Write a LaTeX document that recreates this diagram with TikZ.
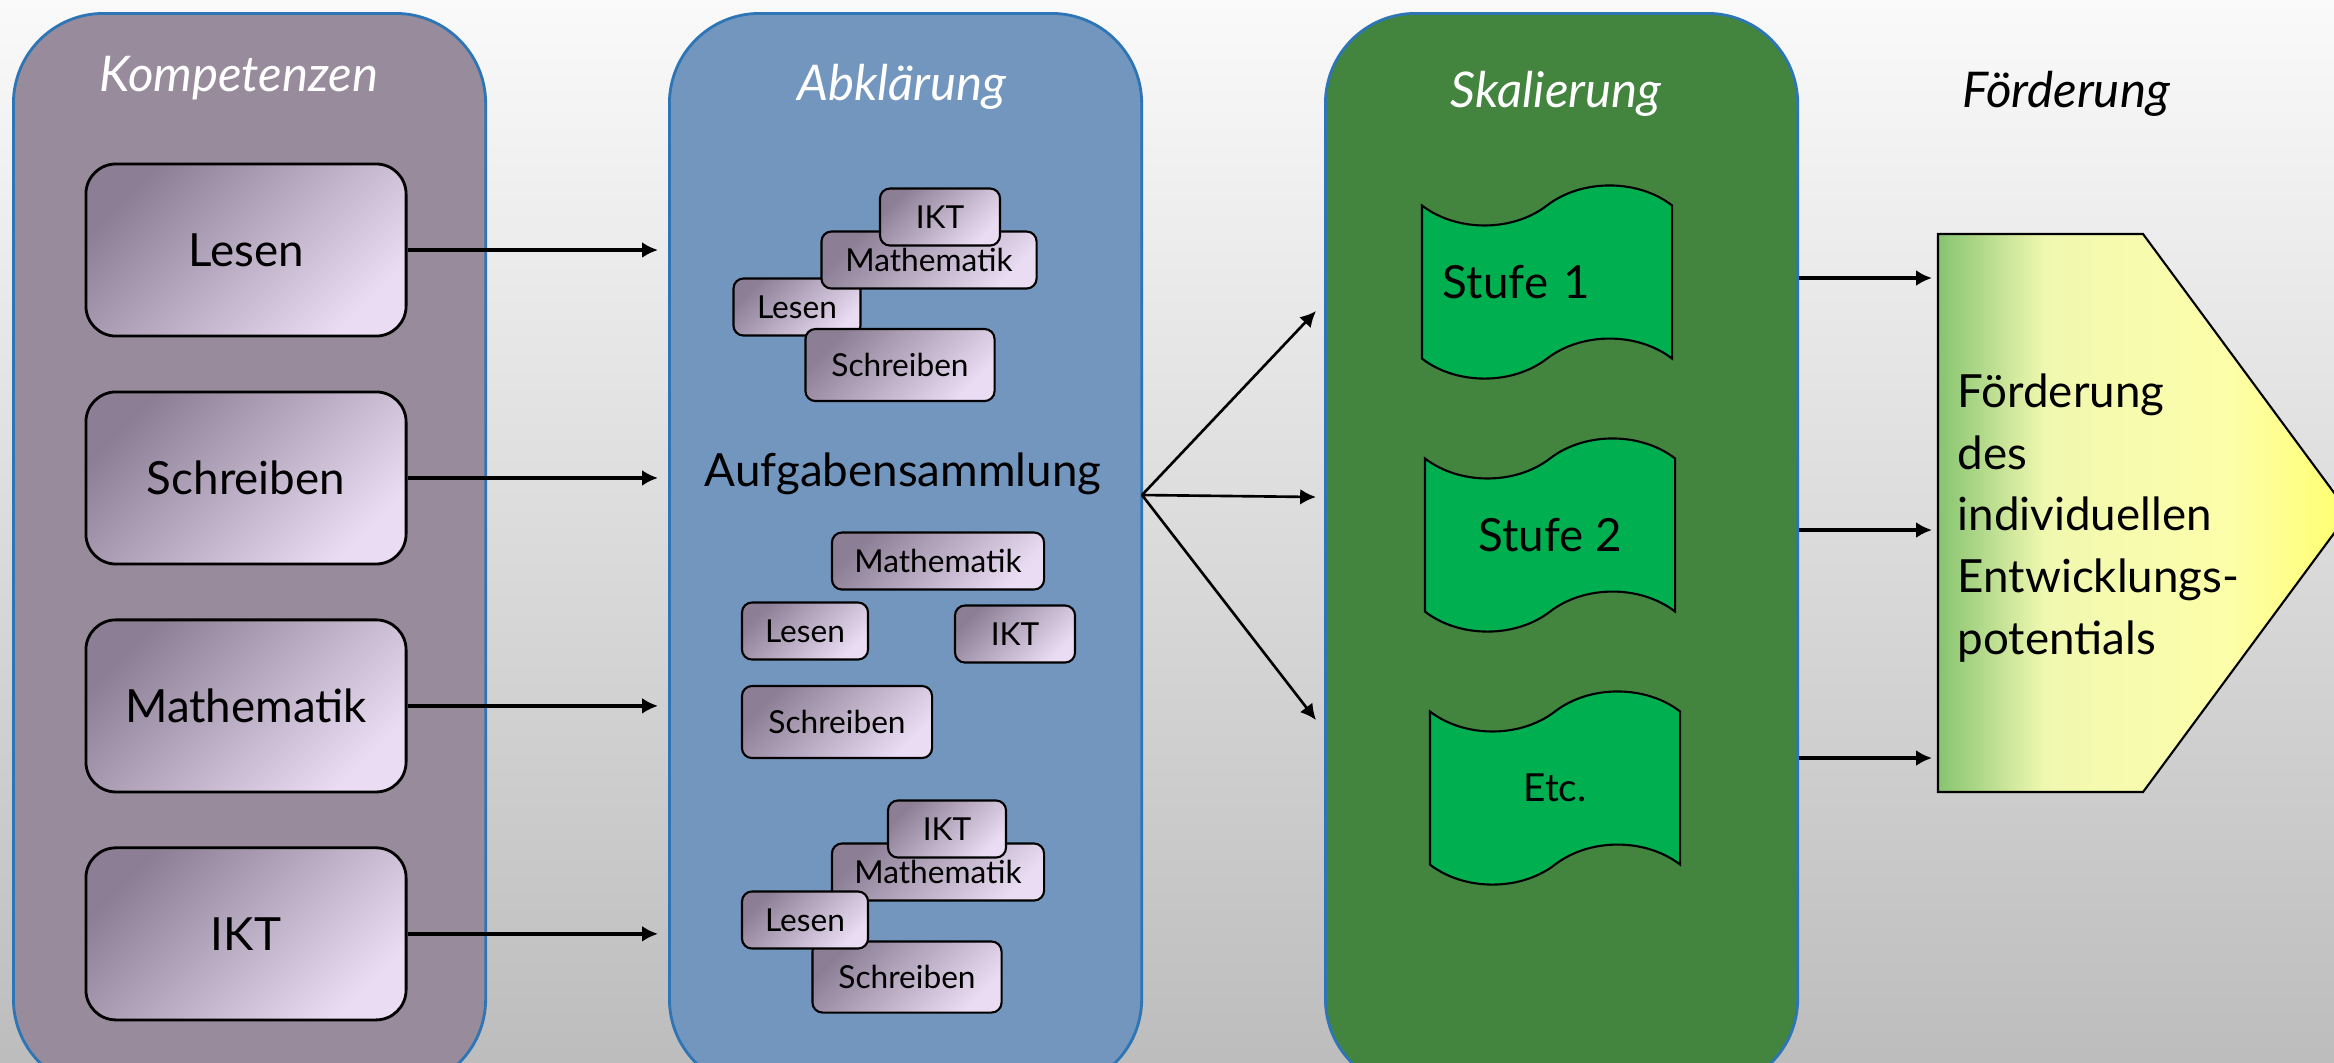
\documentclass[tikz,border=0pt]{standalone}
\usepackage{fontspec}
\setmainfont{Lato}
\usetikzlibrary{arrows.meta,positioning,calc,shapes.symbols}

\definecolor{kompfill}{RGB}{151,139,156}
\definecolor{abklfill}{RGB}{115,150,190}
\definecolor{skalfill}{RGB}{67,132,63}
\definecolor{panelline}{RGB}{46,117,182}
\definecolor{boxdark}{RGB}{140,126,148}
\definecolor{boxlight}{RGB}{234,220,243}
\definecolor{tapegreen}{RGB}{0,176,80}
\definecolor{fgreen}{RGB}{135,196,112}
\definecolor{fpale}{RGB}{240,248,176}
\definecolor{fpaleyel}{RGB}{253,254,170}
\definecolor{fyellow}{RGB}{255,255,110}

\pgfdeclarehorizontalshading{foerdshade}{100bp}{color(0bp)=(fgreen); color(25bp)=(fgreen); color(38bp)=(fpale); color(60bp)=(fpaleyel); color(75bp)=(fyellow); color(100bp)=(fyellow)}

\begin{document}
\begin{tikzpicture}[x=0.01cm, y=-0.01cm, >={Latex[length=4.5pt,width=4.5pt]}, node distance=0.53cm,
    panel/.style={draw=panelline, line width=0.8pt, rounded corners=0.9cm, minimum width=4.72cm, minimum height=10.75cm, inner sep=0pt, anchor=north west},
    paneltitle/.style={text=white, font=\fontsize{14}{17}\selectfont\itshape, anchor=base},
    bigbox/.style={draw=black, line width=0.8pt, rounded corners=0.3cm, minimum width=3.2cm, minimum height=1.72cm, top color=boxdark, bottom color=boxlight, shading angle=45, font=\fontsize{13}{16}\selectfont},
    sbox/.style={draw=black, line width=0.6pt, rounded corners=0.1cm, minimum height=0.57cm, inner sep=1pt, top color=boxdark, bottom color=boxlight, shading angle=45, font=\fontsize{9}{11}\selectfont},
    scroll/.style={shape=tape, draw=black, fill=tapegreen, line width=0.6pt, minimum width=2.5cm, minimum height=1.93cm, tape bend height=0.4cm, font=\fontsize{13}{16}\selectfont},
    arrow/.style={->, line width=1pt, shorten >=0.1cm}]
    \useasboundingbox (0,0) rectangle (2334,1062);
    \clip (0,0) rectangle (2334,1062);
    % Background
    \shade[top color=black!2, bottom color=black!26] (0,0) rectangle (2334,1062);

    % Panels
    \node[panel, fill=kompfill] (komp) at (12,12) {};
    \node[panel, fill=abklfill] (abkl) at (668,12) {};
    \node[panel, fill=skalfill] (skal) at (1324,12) {};
    \node[paneltitle] (kompt) at (239,91) {Kompetenzen};
    \node[paneltitle] (abklt) at (902,100) {Abklärung};
    \node[paneltitle] (skalt) at (1556,107) {Skalierung};
    \node[paneltitle, text=black] (foerdt) at (2066,107) {Förderung};

    % Kompetenzen
    \node[bigbox] (lesen) at (246,250) {Lesen};
    \node[bigbox, below=of lesen] (schreiben) {Schreiben};
    \node[bigbox, below=of schreiben] (mathe) {Mathematik};
    \node[bigbox, below=of mathe] (ikt) {IKT};

    % Abklaerung: first group
    \node[sbox, minimum width=1.27cm] (lesenA) at (797,307) {Lesen};
    \node[sbox, minimum width=2.15cm] (matheA) at (929,260) {Mathematik};
    \node[sbox, minimum width=1.2cm] (iktA) at (940,217) {IKT};
    \node[sbox, minimum width=1.89cm, minimum height=0.72cm] (schreibenA) at (900,365) {Schreiben};
    \node[font=\fontsize{13}{16}\selectfont, anchor=base] (aufg) at (903,486) {Aufgabensammlung};
    % second group
    \node[sbox, minimum width=2.12cm] (matheB) at (938,561) {Mathematik};
    \node[sbox, minimum width=1.26cm] (lesenB) at (805,631) {Lesen};
    \node[sbox, minimum width=1.2cm] (iktB) at (1015,634) {IKT};
    \node[sbox, minimum width=1.9cm, minimum height=0.72cm] (schreibenB) at (837,722) {Schreiben};
    % third group
    \node[sbox, minimum width=1.89cm, minimum height=0.71cm] (schreibenC) at (907,977) {Schreiben};
    \node[sbox, minimum width=2.12cm] (matheC) at (938,872) {Mathematik};
    \node[sbox, minimum width=1.18cm] (iktC) at (947,829) {IKT};
    \node[sbox, minimum width=1.26cm] (lesenC) at (805,920) {Lesen};

    % Skalierung
    \node[scroll, text width=2.08cm, align=left] (stufe1) at (1547,282) {Stufe 1};
    \node[scroll] (stufe2) at (1550,535) {Stufe 2};
    \node[scroll, font=\fontsize{11}{13}\selectfont] (etc) at (1555,788) {Etc.};

    % Foerderung
    \coordinate (fnw) at (1938,234);
    \coordinate (fne) at (2143,234);
    \coordinate (ftip) at (2349,513);
    \coordinate (fse) at (2143,792);
    \coordinate (fsw) at (1938,792);
    \shadedraw[shading=foerdshade, line width=0.6pt] (fnw) -- (fne) -- (ftip) -- (fse) -- (fsw) -- cycle;
    \node[anchor=west, align=left, inner sep=0pt, font=\fontsize{13}{17.5}\selectfont] (foerdtxt) at (1957,518) {Förderung\\des\\individuellen\\Entwicklungs-\\potentials};

    % Arrows
    \foreach \b in {lesen,schreiben,mathe,ikt}
        \draw[arrow] (\b.east) -- (\b.east -| abkl.west);
    \coordinate (fork) at (1142,495);
    \coordinate (toS1) at (1316,311);
    \coordinate (toS2) at (1316,497);
    \coordinate (toS3) at (1316,720);
    \foreach \t in {toS1,toS2,toS3}
        \draw[->, line width=0.75pt] (fork) -- (\t);
    \coordinate (fin1) at (1932,278);
    \coordinate (fin2) at (1932,530);
    \coordinate (fin3) at (1932,758);
    \foreach \t in {fin1,fin2,fin3}
        \draw[->, line width=1pt] (\t -| skal.east) -- (\t);
\end{tikzpicture}
\end{document}
